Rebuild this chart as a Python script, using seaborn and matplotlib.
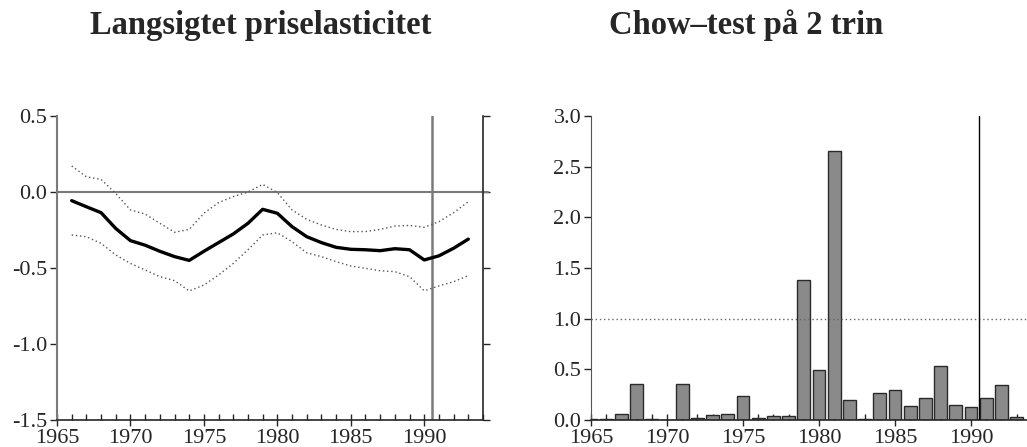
import numpy as np
import pandas as pd
import matplotlib
matplotlib.use("Agg")
import matplotlib.pyplot as plt
from matplotlib.ticker import MultipleLocator, FormatStrFormatter
import seaborn as sns

# Long-run price elasticity, rolling estimate with confidence band
years_el = list(range(1966, 1994))
elasticity = [-0.057, -0.097, -0.136, -0.240, -0.320, -0.350, -0.390, -0.425,
              -0.450, -0.390, -0.333, -0.276, -0.206, -0.114, -0.140, -0.228,
              -0.294, -0.333, -0.364, -0.377, -0.380, -0.386, -0.373, -0.380,
              -0.447, -0.420, -0.370, -0.310]
upper = [0.171, 0.100, 0.083, -0.010, -0.118, -0.145, -0.206, -0.265,
         -0.246, -0.140, -0.070, -0.030, 0.000, 0.050, -0.004, -0.118,
         -0.180, -0.217, -0.246, -0.261, -0.260, -0.246, -0.224, -0.220,
         -0.232, -0.195, -0.136, -0.064]
lower = [-0.283, -0.294, -0.338, -0.414, -0.470, -0.513, -0.557, -0.583,
         -0.651, -0.612, -0.546, -0.470, -0.380, -0.283, -0.268, -0.327,
         -0.400, -0.425, -0.458, -0.487, -0.502, -0.518, -0.524, -0.557,
         -0.650, -0.618, -0.590, -0.550]

# Chow test statistics by year
years_chow = list(range(1965, 1994))
chow = [0.01, 0.005, 0.06, 0.36, 0.005, 0.0, 0.36, 0.015, 0.05, 0.06,
        0.24, 0.015, 0.04, 0.035, 1.38, 0.49, 2.65, 0.20, 0.005, 0.27,
        0.30, 0.14, 0.22, 0.53, 0.15, 0.13, 0.22, 0.35, 0.03]

titles = ["Langsigtet priselasticitet", "Chow\u2013test p\u00e5 2 trin"]

sns.set_style("ticks")
plt.rcParams["font.family"] = ["Liberation Serif", "DejaVu Serif"]
plt.rcParams["font.size"] = 16

fig = plt.figure(figsize=(10.27, 4.47), dpi=100)
ax1 = fig.add_axes([57 / 1027, 27 / 447, 426 / 1027, 304 / 447])
ax2 = fig.add_axes([591 / 1027, 27 / 447, 440.8 / 1027, 304 / 447])

df_el = pd.DataFrame({"year": years_el, "mid": elasticity, "hi": upper, "lo": lower})
df_ch = pd.DataFrame({"year": years_chow, "stat": chow})

# --- left panel: elasticity with band
ax1.axhline(0, xmin=0, xmax=1.012, color="#7a7a7a", lw=1.5, clip_on=False, zorder=1)
ax1.axvline(1990.5, color="#7a7a7a", lw=1.8, zorder=1)
sns.lineplot(data=df_el, x="year", y="hi", ax=ax1, color="#555555", lw=1.0,
             linestyle=(0, (1, 2)))
sns.lineplot(data=df_el, x="year", y="lo", ax=ax1, color="#555555", lw=1.0,
             linestyle=(0, (1, 2)))
sns.lineplot(data=df_el, x="year", y="mid", ax=ax1, color="black", lw=2.4)
ax1.set_xlim(1965, 1994)
ax1.set_ylim(-1.5, 0.5)
ax1.yaxis.set_major_locator(MultipleLocator(0.5))
ax1.yaxis.set_major_formatter(FormatStrFormatter("%.1f"))
ax1.tick_params(axis="y", which="both", left=True, right=True, direction="out",
                length=5, width=1, labelsize=16, pad=2)
ax1.spines["top"].set_visible(False)
ax1.spines["left"].set_color("#7a7a7a")
ax1.spines["left"].set_linewidth(1.5)
ax1.spines["right"].set_linewidth(1.2)
ax1.spines["bottom"].set_linewidth(1.2)

# --- right panel: Chow test bars
sns.barplot(data=df_ch, x="year", y="stat", ax=ax2, native_scale=True,
            width=0.83, color="#8a8a8a", edgecolor="#2a2a2a", linewidth=1.0,
            saturation=1)
ax2.axhline(1.0, color="#666666", lw=1.0, linestyle=(0, (1, 2)), zorder=3)
ax2.axvline(1990.5, color="black", lw=1.0, zorder=3)
ax2.set_xlim(1965, 1994)
ax2.set_ylim(0, 3.0)
ax2.yaxis.set_major_locator(MultipleLocator(0.5))
ax2.yaxis.set_major_formatter(FormatStrFormatter("%.1f"))
ax2.tick_params(axis="y", which="both", left=True, direction="out",
                length=5, width=1, labelsize=16, pad=2)
for side in ("top", "right"):
    ax2.spines[side].set_visible(False)
ax2.spines["left"].set_color("#555555")
ax2.spines["bottom"].set_linewidth(1.2)

for ax in (ax1, ax2):
    ax.set_xlabel("")
    ax.set_ylabel("")
    ax.xaxis.set_major_locator(MultipleLocator(5))
    ax.xaxis.set_minor_locator(MultipleLocator(1))
    ax.xaxis.set_major_formatter(FormatStrFormatter("%d"))
    ax.tick_params(axis="x", which="major", direction="inout", length=8,
                   width=1, labelsize=16, pad=2.5)
    ax.tick_params(axis="x", which="minor", direction="in", length=4, width=1)
    ax.grid(False)

fig.text(261 / 1027, 1 - 34 / 447, titles[0], ha="center", va="baseline",
         fontsize=23.5, fontweight="bold")
fig.text(746 / 1027, 1 - 34 / 447, titles[1], ha="center", va="baseline",
         fontsize=23.5, fontweight="bold")

fig.savefig("out.png", dpi=100)
